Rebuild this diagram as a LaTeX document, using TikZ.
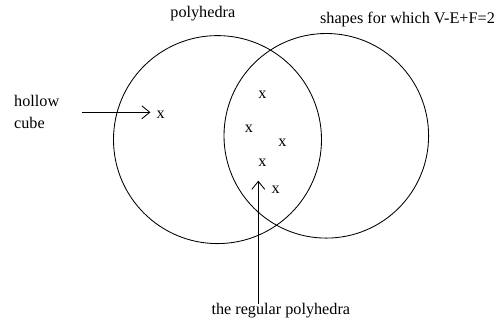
\documentclass[tikz,border=0pt]{standalone}
\usepackage{fontspec}
\setmainfont{Liberation Serif}
\usetikzlibrary{arrows.meta}
\begin{document}
\begin{tikzpicture}[x=1pt,y=-1pt,
  every node/.style={inner sep=0pt, font=\fontsize{16.2}{21.7}\selectfont},
  ring/.style={draw, circle, line width=0.85pt, minimum size=#1},
  arr/.style={draw, line width=0.85pt, -{Straight Barb[length=8pt,width=13pt,line width=0.85pt]}},
  lbl/.style={anchor=base},
  xmk/.style={anchor=base}
]
\useasboundingbox (0,0) rectangle (496,323);
% sets
\node[ring=208pt] (polyset) at (217.5,139.6) {};
\node[ring=204.6pt] (eulerset) at (326.3,135.8) {};
% set labels
\node[lbl] (tpoly) at (202.8,18) {polyhedra};
\node[lbl] (tshapes) at (407.5,23.3) {shapes for which V-E+F=2};
% elements
\node[xmk] (x1) at (160.7,118.6) {x};
\node[xmk] (x2) at (262.3,98.6) {x};
\node[xmk] (x3) at (249,132.3) {x};
\node[xmk] (x4) at (282.3,146.3) {x};
\node[xmk] (x5) at (262.3,166.9) {x};
\node[xmk] (x6) at (275.7,193.6) {x};
% annotations
\node[anchor=north west, align=left] (hollow) at (14,95) {hollow\\cube};
\node[lbl] (treg) at (280.8,315) {the regular polyhedra};
\coordinate (hstart) at (82.3,112.3);
\draw[arr, shorten >=6pt] (hstart) -- (hstart -| x1.west);
\coordinate (rtip) at (258.3,180.7);
\draw[arr] (treg.north -| rtip) -- (rtip);
\end{tikzpicture}
\end{document}
